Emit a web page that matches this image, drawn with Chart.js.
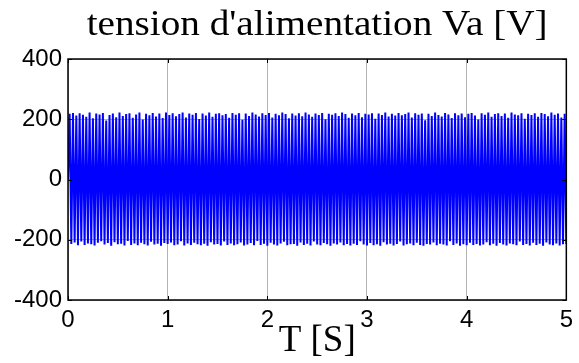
<!DOCTYPE html>
<html><head><meta charset="utf-8">
<script src="https://cdn.jsdelivr.net/npm/chart.js@4.4.0/dist/chart.umd.min.js"></script>
<style>html,body{margin:0;padding:0;background:#fff}#wrap{width:579px;height:363px}</style>
</head><body><div id="wrap"><canvas id="c" width="579" height="363"></canvas></div>
<script>
const titleText = "tension d'alimentation Va [V]";
const xTitle = "T [S]";
const tEnd = 5;
const xTicks = [0, 1, 2, 3, 4, 5];
const yTicks = [-400, -200, 0, 200, 400];
const vaPeaks = [0,
218,-214,221,-209,212,-218,220,-206,215,-217,208,-212,222,-215,203,-219,219,-210,216,-205,
221,-216,196,-211,214,-220,219,-208,207,-215,222,-213,211,-219,217,-204,220,-217,205,-212,
216,-218,222,-210,199,-215,218,-219,213,-207,221,-216,209,-213,219,-220,204,-211,222,-214,
214,-209,220,-218,210,-216,217,-205,222,-219,206,-212,219,-217,215,-210,221,-215,201,-218,
219,-213,212,-220,222,-208,208,-216,218,-214,220,-219,213,-206,217,-217,205,-212,221,-218,
215,-215,220,-209,198,-219,219,-216,211,-211,222,-218,216,-204,209,-217,220,-213,214,-220,
221,-210,206,-216,218,-219,213,-212,222,-207,217,-218,203,-215,219,-214,212,-220,220,-209,
210,-217,222,-213,216,-219,208,-206,219,-216,214,-218,221,-211,200,-215,218,-220,215,-212,
220,-216,211,-209,222,-218,217,-214,205,-219,219,-213,213,-217,221,-205,207,-216,218,-219,
216,-211,220,-218,202,-215,219,-220,214,-208,222,-216,209,-213,218,-219,212,-214,221,-206,
213,-219,217,-215,222,-212,206,-218,220,-210,215,-217,219,-220,197,-214,218,-216,211,-209,
222,-218,214,-213,209,-216,221,-219,216,-205,204,-217,220,-212,213,-220,219,-215,207,-218,
218,-210,221,-217,212,-214,199,-219,220,-216,215,-208,222,-218,208,-213,217,-220,220,-211,
211,-216,219,-219,205,-212,222,-215,216,-218,213,-206,220,-217,202,-214,218,-219,214,-210,
220,-217,208,-213,221,-220,217,-209,210,-216,222,-218,215,-212,219,-219,206,-215,218,-214];

const pts = vaPeaks.map((v, i) => ({x: i * tEnd / (vaPeaks.length - 1), y: v}));

const boxPlugin = {
  id: 'box',
  afterDatasetsDraw(chart) {
    const {ctx, chartArea: a, scales: {x, y}} = chart;
    ctx.save();
    ctx.strokeStyle = '#000';
    ctx.lineWidth = 1;
    xTicks.forEach(v => {
      const px = Math.round(x.getPixelForValue(v)) + 0.5;
      ctx.beginPath(); ctx.moveTo(px, a.bottom); ctx.lineTo(px, a.bottom - 4);
      ctx.moveTo(px, a.top); ctx.lineTo(px, a.top + 4); ctx.stroke();
    });
    yTicks.forEach(v => {
      const py = Math.round(y.getPixelForValue(v)) + 0.5;
      ctx.beginPath(); ctx.moveTo(a.left, py); ctx.lineTo(a.left + 4, py);
      ctx.moveTo(a.right, py); ctx.lineTo(a.right - 4, py); ctx.stroke();
    });
    ctx.lineWidth = 1.5;
    ctx.strokeRect(a.left, a.top, a.right - a.left, a.bottom - a.top);
    ctx.restore();
  }
};

new Chart(document.getElementById('c'), {
  type: 'line',
  data: { datasets: [{ data: pts, borderColor: '#0000ff', borderWidth: 2, pointRadius: 0, tension: 0, fill: false }] },
  options: {
    responsive: false, animation: false, events: [],
    layout: { padding: { top: 59, right: 9, left: 0, bottom: 0 } },
    plugins: {
      legend: { display: false }, tooltip: { enabled: false },
      title: { display: false }
    },
    scales: {
      x: {
        type: 'linear', min: 0, max: tEnd,
        afterFit(s) { s.height = 63; },
        ticks: { stepSize: 1, color: '#000', padding: 6, font: { family: 'Liberation Sans', size: 24 }, maxRotation: 0 },
        grid: { color: '#b4b4b4', lineWidth: 1, drawTicks: false },
        border: { display: false },
        title: { display: true, text: xTitle, color: '#000', font: { family: 'Liberation Serif', size: 37 }, padding: { top: -8, bottom: 0 } }
      },
      y: {
        min: -400, max: 400,
        afterFit(s) { s.width = 68; },
        ticks: { stepSize: 200, color: '#000', padding: 6, font: { family: 'Liberation Sans', size: 24 } },
        grid: { color: '#b4b4b4', lineWidth: 1, drawTicks: false },
        border: { display: false }
      }
    }
  },
  plugins: [boxPlugin, {
    id: 'ttl',
    afterDraw(chart) {
      const {ctx, chartArea: a} = chart;
      ctx.save();
      ctx.fillStyle = '#000';
      ctx.font = '35px "Liberation Serif"';
      ctx.textAlign = 'center';
      ctx.textBaseline = 'alphabetic';
      const cx = (a.left + a.right) / 2;
      ctx.translate(cx, 35);
      ctx.scale(1.12, 1);
      ctx.fillText(titleText, 0, 0);
      ctx.restore();
    }
  }]
});
</script></body></html>
